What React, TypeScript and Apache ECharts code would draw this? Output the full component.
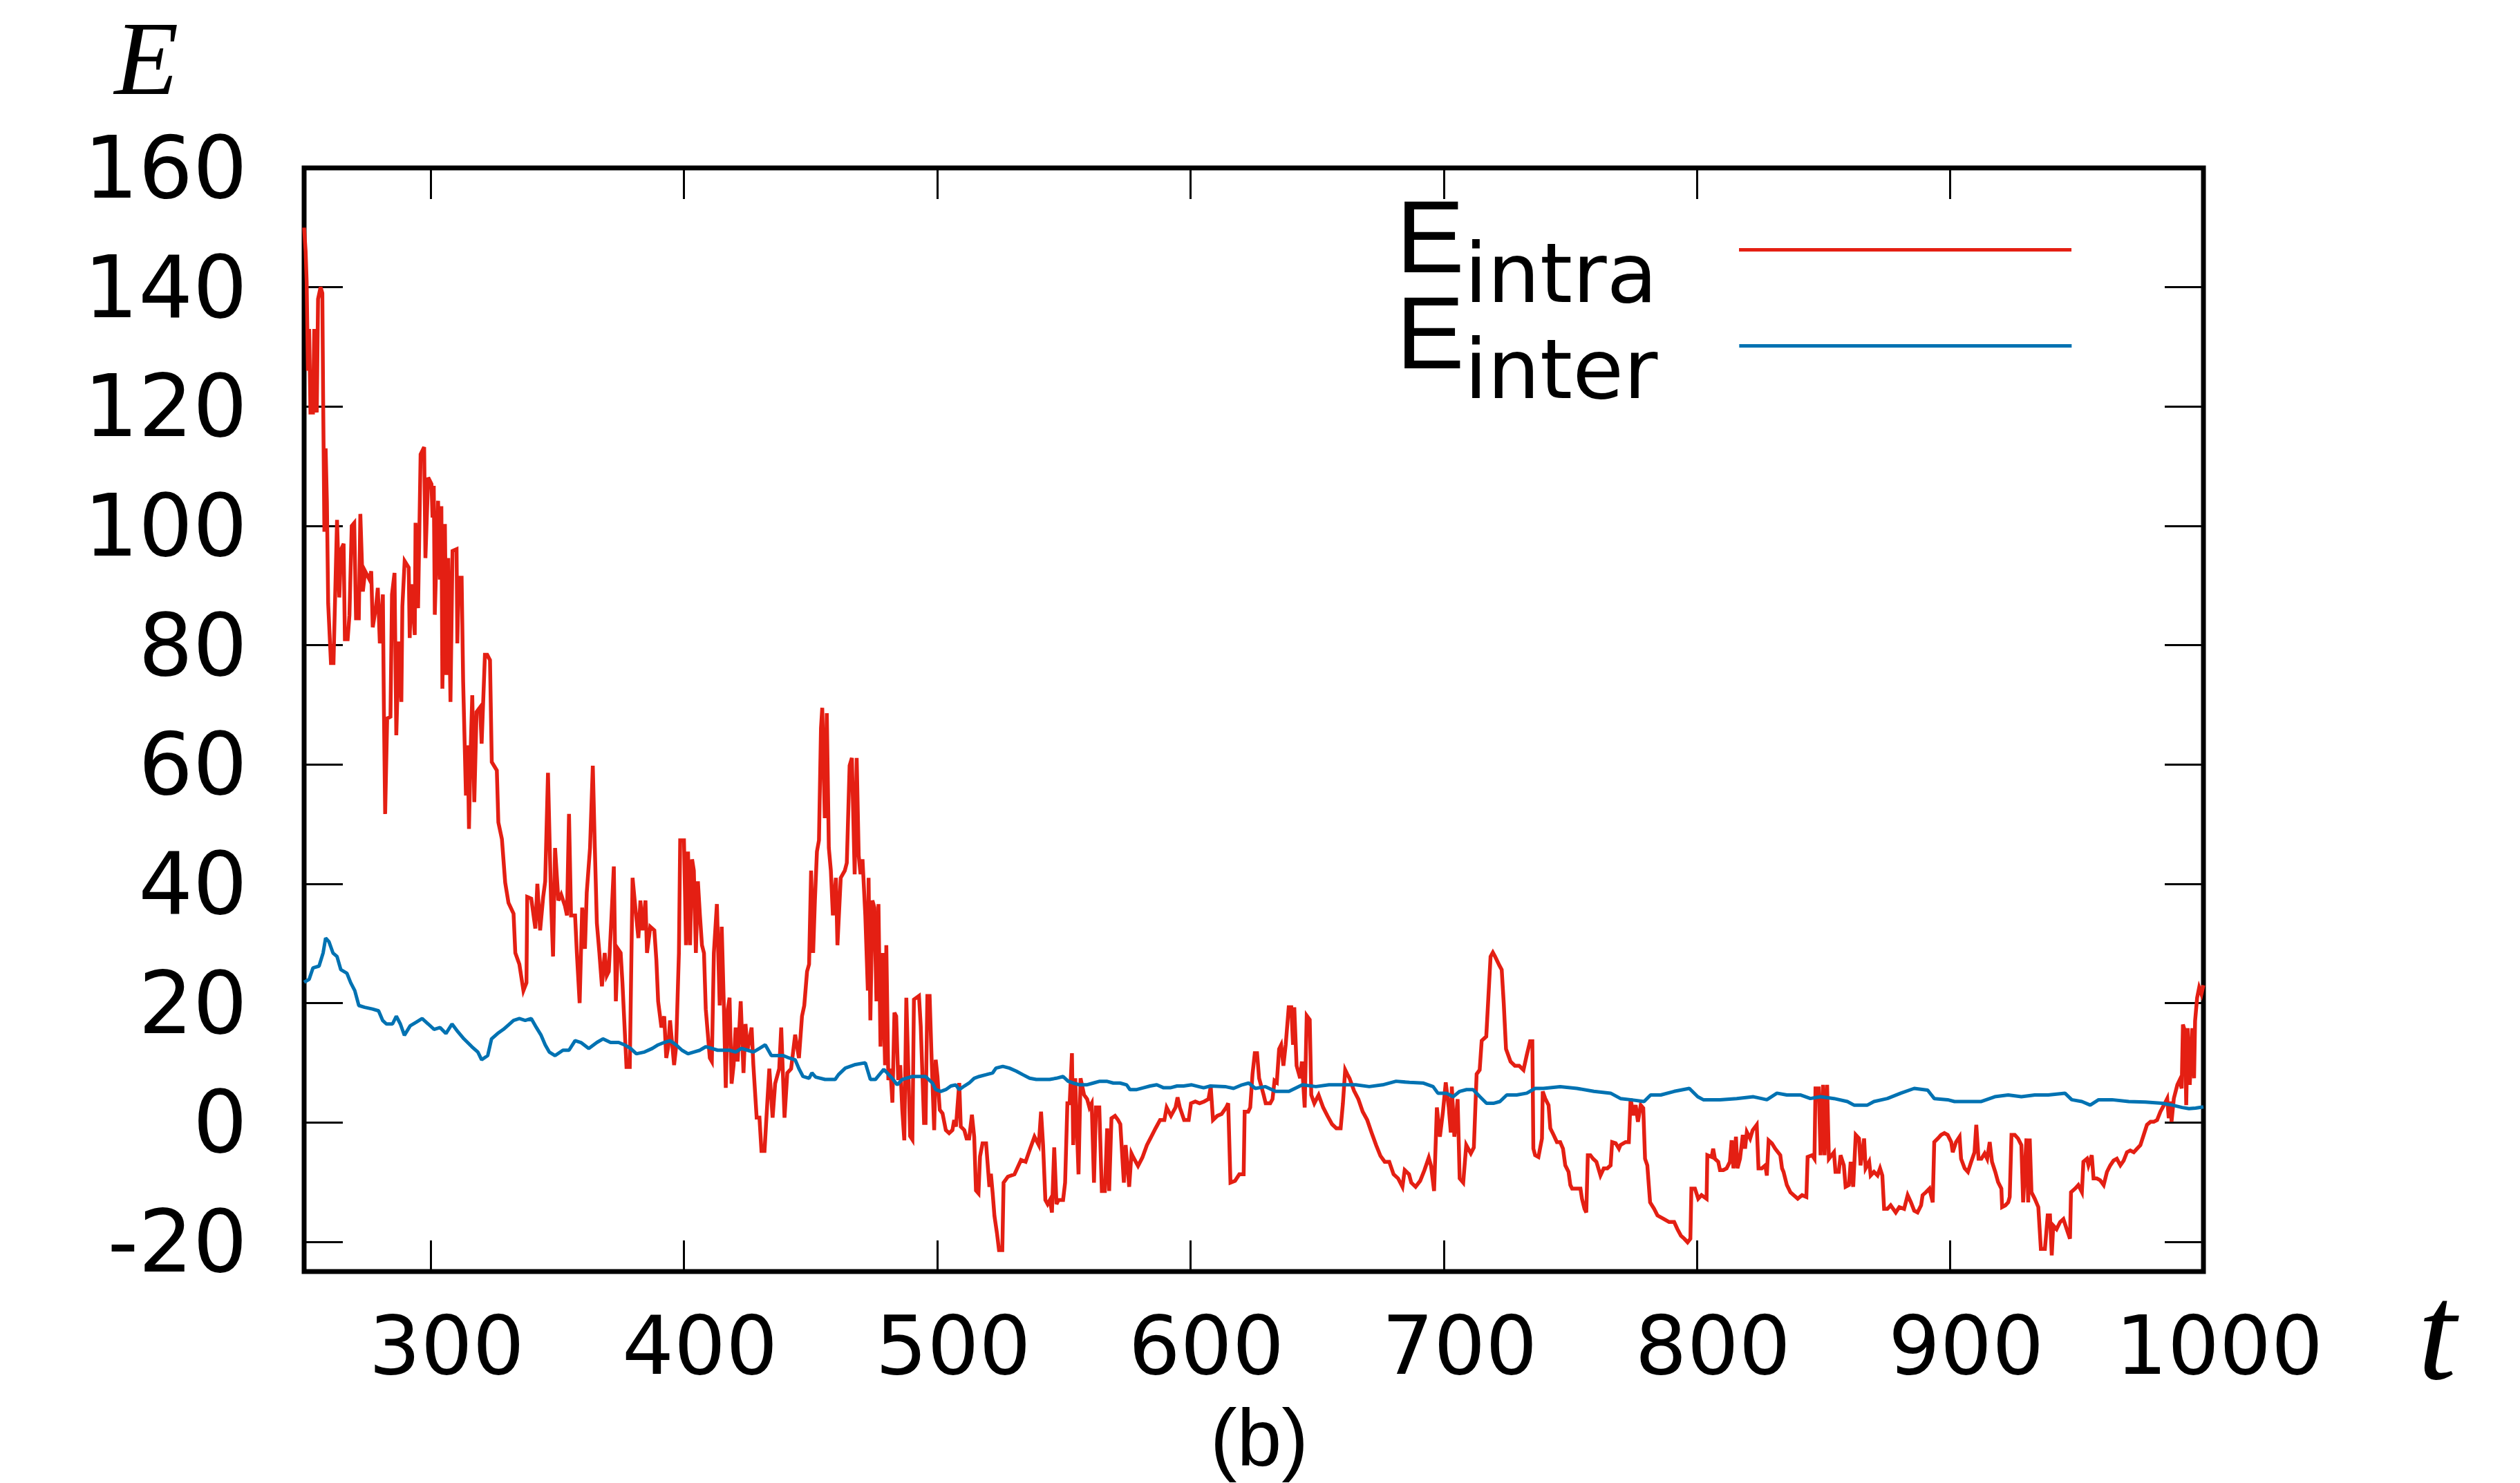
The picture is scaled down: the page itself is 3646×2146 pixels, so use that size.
import React, { useEffect, useRef } from "react";
import * as echarts from "echarts";

const xTicks = [300, 400, 500, 600, 700, 800, 900, 1000];
const yTicks = [-20, 0, 20, 40, 60, 80, 100, 120, 140, 160];
const seriesNames = ["E_intra", "E_inter"];
const legendSubs: Record<string, string> = { E_intra: "intra", E_inter: "inter" };

const eIntra: [number, number][] = [
  [250,150],[250.6,146],[251,141],[251.5,126],[252,133],[252.5,119],[253.5,119],[254,133],[255,119],[255.5,138],[256.5,140],[257.2,139],[257.5,122],[258,99],[258.5,113],[259,104],[259.5,87],[260.6,77],[261.6,77],[263,101],[263.9,88],[264.6,96],[265.6,97],[266.1,81],[267.2,81],[267.9,85],[268.8,100],[269.8,100.5],[270.5,84.5],[271.6,84.5],[272.2,102],[273.2,89],[274.1,92.4],[275.8,91],[276.5,92.4],[277.1,83],[278.4,86.5],[279.1,89.6],[279.9,80.3],[281.1,88.5],[281.5,69.4],[282,51.7],[282.8,67.7],[284.1,68],[284.7,88.5],[285.7,92.1],[286.4,64.9],[287.4,80.6],[288.4,70.5],[288.8,86.5],[289.7,94.1],[291.3,93],[291.7,81.2],[292.3,90.2],[293.7,81.7],[294,100.5],[295,86.2],[296,112],[297.4,113.2],[297.9,94.6],[299,108.1],[300.3,107],[300.7,101.4],[301.2,106.7],[301.6,85.1],[302.9,104.2],[303.6,91],[304.2,103.3],[304.6,72.7],[305.6,100.3],[306.2,75],[306.9,94.6],[307.8,70.5],[308.6,95.8],[310.2,96.1],[310.5,80.3],[311.1,91.3],[312.2,91.3],[312.8,73.9],[313.9,54.8],[314.6,63.2],[315.1,49.2],[315.7,61.5],[316.4,71.6],[317.2,53.7],[318.1,68.8],[319.5,69.6],[320.1,63.5],[321.4,78.4],[322.3,78.4],[323.4,77.5],[324.1,60.4],[326.1,59],[326.7,50.3],[328.1,47.5],[329.4,40.2],[330.7,36.8],[332.7,35],[333.4,28.4],[335,26.5],[336.6,22.1],[337.8,23.4],[338.1,37.8],[339.7,37.5],[341.3,32.5],[342.1,40],[343.2,32.2],[344.4,37.8],[345.2,40.4],[346.3,58.6],[347.5,37.2],[348.3,27.8],[349.1,46],[350.4,37.2],[351.5,38.2],[353,36.3],[353.8,34.7],[354.6,51.7],[355.4,34.7],[357,34.7],[357.7,28.4],[358.8,20],[359.8,36],[360.9,29.1],[361.6,38.5],[362.9,46],[364,59.8],[364.8,46],[365.6,33.4],[366.6,28.4],[367.6,22.8],[368.7,28.4],[369.5,24.6],[370.3,25.3],[371.4,34.7],[372.3,42.9],[373.1,20.3],[373.9,29.1],[375,28.4],[375.7,23.4],[377.3,9.3],[378.6,9.3],[379.7,41],[380.8,36],[382,30.9],[382.8,37.2],[383.6,32.2],[384.8,37.2],[385.4,28.4],[386.7,32.8],[388.3,32.2],[389.1,27.2],[389.8,20.3],[391.1,15.9],[392.2,17.8],[393,10.8],[393.8,12.7],[394.5,17.1],[396.1,9.6],[396.9,12.7],[398,28.4],[398.5,47.3],[400,47.3],[400.8,29.7],[401.6,45.4],[402.4,29.7],[403.2,44.1],[403.9,42.2],[404.7,28.4],[405.5,40.4],[406.3,34.7],[407.1,29.7],[407.9,28.4],[408.6,19],[410.2,10.8],[411,10.2],[411.8,28.4],[413,36.6],[414.1,19.6],[414.9,32.8],[415.7,20.3],[416.5,5.8],[417.3,19],[418,20.9],[418.8,6.5],[419.6,9.6],[420.4,15.9],[421.2,10.2],[422.4,20.3],[423.5,8.3],[424.3,16.5],[425.1,12.1],[426.7,15.9],[427.4,9.6],[428.7,0.8],[429.8,0.8],[430.6,-4.8],[431.8,-4.8],[432.9,3.3],[433.7,9],[435,0.8],[436,6.5],[437.6,9],[438.4,15.9],[439.7,0.8],[440.8,8.3],[442.3,9],[443.9,14.7],[445.4,10.8],[446.6,17.8],[447.5,19.6],[448.6,25.3],[449.4,26.5],[450.2,42.2],[451,28.4],[451.7,37.2],[452.5,45.4],[453.3,47.3],[454.1,66.1],[454.6,69.5],[455.6,51],[456.4,68.6],[457.2,46],[458,42.2],[458.8,34.7],[460,41],[460.6,29.7],[461.9,41],[463.5,42.2],[464.3,43.5],[465.4,59.8],[466.3,61.1],[467.4,41.6],[468.2,61.1],[469,44.7],[469.7,41.6],[470.5,44.1],[471.6,34.7],[472.6,22.1],[472.9,41],[473.6,17.1],[474.4,37.2],[475.2,36],[476,20.3],[476.8,36.6],[477.6,12.7],[478.4,28.4],[479.4,9.6],[479.9,29.7],[480.7,7.1],[481.5,9],[482.3,3.3],[483.1,18.4],[483.8,17.8],[484.6,7.1],[485.4,9.6],[486.2,2.1],[487,-3],[487.8,20.9],[489.3,-2.3],[490.2,-2.9],[490.8,20.6],[492.8,21.2],[493.5,16.1],[494.8,-0.1],[495.4,-0.1],[496.1,21.2],[497,21.2],[497.8,10.5],[498.8,-1.3],[499.4,10.5],[500.1,7.7],[501,2.1],[502.1,1.5],[503.4,-1.3],[504.7,-1.8],[506,-1.3],[506.7,0.4],[507.4,-0.7],[508.7,6.6],[509.3,-0.7],[510.7,-1.3],[511.6,-2.7],[512.6,-2.7],[513.7,1.3],[514.6,-2.4],[515.3,-11.4],[516.3,-11.9],[516.9,-5.7],[517.9,-3.5],[519.3,-3.5],[519.9,-6.9],[520.6,-10.8],[521.2,-8.6],[521.9,-11.9],[522.6,-15.7],[523.6,-18.6],[524.4,-21.4],[525.7,-21.4],[526.2,-10.1],[527.9,-9.1],[530.5,-8.7],[533.1,-6.3],[534.9,-6.6],[536.6,-4.5],[538.4,-2.4],[540.1,-3.8],[541,1.8],[541.8,-3.8],[542.7,-13],[543.6,-13.7],[544.5,-13],[545.3,-15.1],[546.2,-4.2],[547.1,-13.7],[547.9,-13],[549.7,-13],[550.5,-10.1],[551.4,3.2],[552.3,3.2],[553.2,11.6],[553.7,-3.8],[554.5,7.4],[555.8,-8.7],[556.6,7.4],[558,4.6],[559.2,3.9],[560.1,2.5],[561,3.2],[561.9,-10.1],[562.7,2.5],[564,2.5],[565,-11.5],[566.2,-11.5],[567.1,-1],[567.9,-11.5],[568.8,0.7],[570.2,1.1],[571.4,0.4],[572.3,-0.3],[573.7,-10.1],[574.4,-3.8],[575.8,-10.8],[576.7,-5.2],[577.5,-5.9],[579.3,-7.3],[581,-5.9],[582.8,-3.8],[584.5,-2.4],[586.2,-1],[588,0.4],[589.7,0.4],[590.6,2.5],[592.3,1.1],[594.1,2.5],[594.9,4.2],[595.8,2.5],[597.5,0.4],[599.3,0.4],[600.2,3.2],[601.9,3.5],[603.6,3.2],[605.4,3.5],[607.1,3.9],[608,6],[608.9,0.4],[610.6,1.1],[612.3,1.4],[614.1,2.5],[614.9,3.2],[615.8,-10.1],[617.6,-9.8],[619.3,-8.7],[621,-8.7],[621.4,1.8],[622.8,1.8],[623.6,2.5],[624.5,8.1],[625.4,11.6],[626.3,11.6],[627.1,7.4],[628.9,4.6],[629.7,3.2],[631.5,3.2],[632.4,3.9],[633.2,7],[634.1,6.7],[635,12.3],[635.8,13],[636.7,9.5],[637.6,13],[638.8,19.3],[639.8,19.3],[640.5,13],[641,19.3],[641.9,9.5],[643.3,7.4],[644,10.2],[645.1,2.5],[645.9,17.9],[647.1,17.2],[647.7,4.6],[648.9,3.2],[650.6,4.6],[652.4,2.5],[654.1,1.1],[655.9,-0.3],[657.6,-1],[659.3,-1],[660.2,3.2],[661.1,8.8],[661.9,8.1],[662.8,7.4],[664.6,5.3],[666.3,3.9],[668,1.8],[669.8,0.4],[671.5,-1.7],[673.3,-3.8],[675,-5.6],[676.7,-6.6],[678.5,-6.6],[680.2,-8.7],[682,-9.4],[683.7,-10.8],[684.6,-8],[686.3,-8.7],[687.2,-10.1],[688.9,-10.8],[690.7,-9.8],[692.4,-8],[694.1,-5.9],[695,-7.3],[696.2,-11.5],[697.3,2.5],[698.5,-2.4],[699.7,1.8],[700.8,6.7],[702,2.5],[702.8,-1.7],[703.2,6],[704.2,-2.4],[705.5,3.9],[706.3,-9.4],[707.7,-10.1],[708.9,-3.8],[710.7,-5.2],[711.9,-4.2],[713,8.1],[714.2,8.8],[715,13.7],[716.8,14.4],[717.6,20.7],[718.5,27.8],[719.4,28.5],[720.3,27.8],[722,26.3],[722.9,25.6],[723.7,20],[724.6,12.3],[726.4,10.2],[728.1,9.5],[729.8,9.5],[731.5,8.8],[732.8,11.3],[734.1,13.6],[735,13.6],[735.4,-4.4],[736.1,-5.5],[737.4,-5.8],[738.8,-2.7],[739.1,5.2],[740.1,4],[741.4,2.9],[742.1,-1],[743.4,-2.1],[744.7,-3.3],[746,-3.3],[747.1,-4.4],[748,-7.2],[749.3,-8.3],[750,-10.5],[750.7,-11.1],[752.6,-11.1],[754,-11.1],[754.6,-12.8],[755.6,-14.5],[756.3,-15.1],[756.9,-5.5],[757.9,-5.5],[759,-6.1],[760.3,-6.6],[761.9,-8.9],[763.2,-7.7],[764.6,-7.7],[765.9,-7.2],[766.5,-3.3],[767.9,-3.5],[769.2,-4.4],[769.8,-3.8],[771.8,-3.3],[773.1,-3.3],[773.8,4],[774.9,1.2],[775.8,2.9],[776.7,0.1],[777.8,2.9],[778.8,2.4],[779.5,-6.1],[780.4,-7.2],[781.5,-13.4],[783.1,-14.5],[784.4,-15.6],[787,-16.2],[789,-16.7],[791,-16.7],[792.3,-17.9],[793.7,-19],[795,-19.5],[796.3,-20.1],[797.4,-19.5],[797.8,-11.1],[799.2,-11.1],[800.5,-12.8],[801.8,-12.2],[803.8,-12.8],[804.1,-5.5],[805.8,-5.8],[806.4,-4.4],[807.1,-6.1],[808.4,-6.6],[809.1,-8],[810.4,-8],[811.7,-7.7],[813,-6.6],[813.7,-3],[814.4,-7.7],[815.4,-2.4],[816,-7.7],[817,-6.1],[818.1,-2.1],[819,-4.4],[819.7,-1.6],[821,-2.7],[822,-1.3],[823.6,-0.4],[824.3,-7.7],[825.6,-7.7],[827,-7.2],[827.6,-8.9],[828.3,-3],[829.6,-3.5],[830.9,-4.4],[832.9,-5.5],[833.6,-7.7],[834.2,-8.3],[835.5,-10.5],[836.9,-11.7],[838.2,-12.2],[839.8,-12.8],[841.5,-12.2],[843.2,-12.5],[843.7,-5.8],[845.5,-5.5],[846.4,-6.1],[846.8,5.7],[848.1,5.7],[848.8,-5.5],[849.8,6.3],[850.4,-5.5],[851.4,6.3],[852.1,-6.1],[854.1,-5],[854.7,-8.3],[856,-8.3],[856.7,-5.5],[858,-7.2],[858.7,-10.8],[860,-10.5],[860.7,-6.6],[861.7,-10.8],[862.7,-2.1],[864,-2.7],[864.6,-7.2],[866,-2.7],[866.6,-7.7],[868,-6.6],[868.6,-8.9],[869.9,-8.3],[871.3,-8.9],[872.3,-7.7],[873.2,-8.9],[873.9,-14.5],[875.2,-14.5],[876.5,-13.9],[878.5,-15.1],[879.9,-14.2],[881.8,-14.5],[883.2,-12.2],[884.5,-13.4],[885.8,-14.8],[887.1,-15.1],[888.5,-13.9],[889.1,-12.2],[890.4,-11.7],[891.8,-11.1],[893.1,-13.4],[893.7,-3.3],[895.1,-2.7],[896.4,-2.1],[897.7,-1.8],[899,-2.1],[900.4,-3.3],[901,-5],[902.3,-3.3],[903.7,-2.4],[904.3,-6.1],[905.7,-7.7],[907,-8.3],[908.3,-6.6],[909.6,-5],[910.3,-0.4],[911.2,-6.1],[912.3,-6.1],[913.6,-5.2],[914.6,-6.1],[915.6,-3.3],[916.5,-6.6],[917.8,-8.3],[918.9,-10],[920.2,-11.1],[920.5,-14.2],[921.8,-13.9],[922.9,-13.4],[923.5,-12.5],[924.2,-2.1],[925.5,-2.1],[926.8,-2.7],[928.1,-3.8],[928.8,-13.4],[930.1,-2.7],[930.8,-13.4],[931.4,-2.7],[932.1,-11.7],[933.4,-12.8],[934.8,-14.2],[935.8,-21.2],[937.4,-21.2],[938.5,-15.6],[939.4,-15.6],[940.1,-22.3],[940.7,-17.3],[942,-17.9],[943.4,-16.7],[944.7,-16.2],[946,-17.9],[947.3,-19.5],[947.7,-11.7],[949.3,-11.1],[950.6,-10.5],[952,-11.7],[952.6,-6.6],[954,-6.1],[954.6,-7.2],[955.9,-5.5],[956.6,-9.4],[957.9,-9.4],[959.2,-9.7],[960.6,-10.5],[961.9,-8.3],[963.2,-7.2],[964.5,-6.4],[965.8,-6.1],[967.2,-7.2],[968.5,-6.4],[969.8,-5],[971.1,-4.7],[972.5,-5],[973.8,-4.4],[975.1,-3.8],[976.4,-2.1],[977.7,-0.4],[979.1,0.1],[980.4,0.1],[981.7,0.4],[983,1.8],[984.4,2.9],[985.7,4],[986.3,0.7],[987,3.5],[987.4,0.1],[988.3,4],[989.7,6.3],[990.6,7.1],[991.4,5.7],[991.9,16.4],[992.7,15.3],[993.2,2.9],[993.8,15.8],[994.6,6.3],[995.6,15.8],[996.3,7.4],[996.7,17],[997.5,20.9],[998.3,22.6],[999.2,21.5],[1000,23]
];

const eInter: [number, number][] = [
  [250,23.5],[252,24],[253.5,25.9],[255.9,26.2],[257.5,28.4],[258.5,30.9],[259.8,30.3],[261.4,28.4],[263,27.8],[264.5,25.6],[266.9,25],[268.4,23.4],[270,22.1],[271.6,19.6],[273.9,19.3],[277,19],[279.4,18.7],[281,17.1],[282.5,16.5],[284.9,16.5],[286.4,17.8],[288,16.5],[289.6,14.6],[291.9,16.2],[294.3,16.8],[296.6,17.4],[299,16.5],[301.3,15.6],[303.7,15.9],[306,14.9],[308.4,16.5],[310.7,15.2],[313.1,14],[316.2,12.7],[318.6,11.8],[320.1,10.5],[322.5,11.2],[324,14],[326.4,14.9],[328.7,15.6],[331.1,16.5],[332.7,17.1],[335,17.4],[337.3,17.1],[339.7,17.4],[341.3,16.2],[343.6,14.6],[345.2,13],[346.8,11.8],[349.1,11.2],[352.2,12.1],[354.6,12.1],[357,13.7],[359.3,13.4],[362.4,12.4],[365.6,13.4],[368,14],[371,13.4],[374.2,13.4],[376.5,13],[378.9,12.4],[381.2,11.5],[384.4,11.8],[387.5,12.4],[389.8,13],[392.2,13.4],[394.5,13.7],[396.9,13],[399.2,12.1],[401.6,11.5],[403.9,11.8],[406.3,12.1],[408.6,12.7],[411,12.4],[413.3,12.1],[415.7,12.1],[418,12.1],[420.4,11.8],[422.7,12.4],[425.1,12.1],[427.4,11.8],[429.8,12.4],[432.1,13],[434.5,11.2],[436.8,11.2],[439.2,11.2],[441.5,10.8],[443.9,10.5],[445.4,9],[447,7.7],[449.4,7.4],[450.5,8.3],[452,7.6],[455.7,7.2],[459.7,7.2],[461,8],[463.7,9.1],[467.7,9.7],[471.6,10],[473.6,7.2],[475.6,7.2],[478.9,8.9],[482.2,7.4],[484.2,6.3],[486.2,7.2],[490.2,7.7],[495.4,7.7],[498.1,6.6],[499.4,5.5],[501.4,5.2],[503.4,5.5],[505.4,6.1],[507.3,6.3],[508.7,5.5],[510.7,6.1],[512.6,6.6],[514.6,7.4],[516.6,7.7],[519.3,8],[521.9,8.3],[523.2,9.1],[525.9,9.4],[528.5,9.1],[531.2,8.6],[533.8,8],[536.5,7.4],[539.1,7.2],[544.4,7.2],[547,7.4],[549.7,7.7],[551.7,6.9],[553.7,6.6],[556.3,6.3],[559,6.3],[561.6,6.6],[564.2,6.9],[566.9,6.9],[569.5,6.6],[572.2,6.6],[574.8,6.3],[576.1,5.5],[578.8,5.5],[581.4,5.8],[584.1,6.1],[586.7,6.3],[589.4,5.8],[592,5.8],[594.7,6.1],[597.3,6.1],[600.5,6.3],[605.2,5.8],[607.9,6.1],[613.7,6],[617,5.7],[620.4,6.3],[623,6.6],[625.6,5.7],[629.6,6],[633.6,5.2],[638.9,5.2],[644.2,6.3],[649.5,6],[654.7,6.3],[660,6.3],[665.3,6.3],[670.6,6],[675.9,6.3],[681.2,6.9],[686.5,6.7],[691.8,6.6],[695.8,6],[697.7,4.9],[701,4.9],[703.7,4.3],[706.3,5.2],[709,5.5],[711.6,5.5],[714.3,4.3],[716.9,3.2],[719.6,3.2],[722.2,3.5],[724.9,4.6],[728.8,4.6],[732.8,4.9],[736.1,5.7],[739.4,5.7],[746,6],[752.6,5.7],[759.3,5.2],[765.9,4.9],[769.8,4],[773.8,3.8],[779.1,3.5],[781.7,4.6],[785.7,4.6],[791,5.2],[797,5.7],[800.3,4.3],[802.5,3.8],[809.1,3.8],[815.7,4],[822.3,4.3],[827.6,3.8],[831.6,4.9],[835.5,4.6],[840.8,4.6],[844.8,4],[848.8,4.3],[854.1,4],[859.4,3.5],[862,2.9],[867.3,2.9],[869.9,3.5],[875.2,4],[880.5,4.9],[885.8,5.7],[891.1,5.4],[893.7,4],[899,3.8],[901.7,3.5],[907,3.5],[912.3,3.5],[917.6,4.3],[922.9,4.6],[928.1,4.3],[933.4,4.6],[938.7,4.6],[945.3,4.9],[948,3.8],[952,3.5],[955.3,2.9],[958.6,3.8],[963.9,3.8],[970.5,3.5],[977.1,3.4],[983.7,3.2],[987.7,2.9],[991.6,2.5],[994.3,2.3],[996.9,2.4],[1000,2.6]
];

const RED = "#e41f13";
const BLUE = "#0072b2";
const SANS = "DejaVu Sans";

export default function App() {
  const ref = useRef<HTMLDivElement>(null);

  useEffect(() => {
    if (!ref.current) return;
    const chart = echarts.init(ref.current, null, { renderer: "svg" });

    const tickStyle = { color: "#000", width: 3 };
    const plain = (v: number) => String(v);

    const legendRich = {
      E: { fontFamily: "Liberation Sans", fontSize: 148, verticalAlign: "top", color: "#000" },
      s: { fontFamily: SANS, fontSize: 120, verticalAlign: "top", padding: [67, 0, 0, 0], color: "#000" },
      g: { width: 113, fontSize: 20 },
    };
    const legendFormatter = (name: string) => `{E|E}{s|${legendSubs[name]}}{g| }`;
    const legendBase = {
      orient: "vertical",
      left: 2020,
      padding: 0,
      align: "right",
      icon: "rect",
      itemWidth: 481,
      itemHeight: 5,
      selectedMode: false,
      formatter: legendFormatter,
      textStyle: { rich: legendRich },
    };

    const option: any = {
      animation: false,
      backgroundColor: "#ffffff",
      grid: {
        left: 440,
        top: 243,
        width: 2748,
        height: 1597,
        show: true,
        borderColor: "#000",
        borderWidth: 7,
        backgroundColor: "transparent",
        containLabel: false,
      },
      xAxis: [
        {
          type: "value",
          min: 250,
          max: 1000,
          position: "bottom",
          axisLine: { show: false, onZero: false },
          splitLine: { show: false },
          axisTick: { show: true, inside: true, length: 45, lineStyle: tickStyle, customValues: xTicks },
          axisLabel: {
            show: true,
            customValues: xTicks,
            margin: 59,
            lineHeight: 96,
            formatter: plain,
            padding: [0, 0, 0, 46],
            fontSize: 118,
            fontFamily: SANS,
            color: "#000",
          },
        },
        {
          type: "value",
          min: 250,
          max: 1000,
          position: "top",
          axisLine: { show: false, onZero: false },
          splitLine: { show: false },
          axisTick: { show: true, inside: true, length: 45, lineStyle: tickStyle, customValues: xTicks },
          axisLabel: { show: false },
        },
      ],
      yAxis: [
        {
          type: "value",
          min: -25,
          max: 160,
          position: "left",
          axisLine: { show: false, onZero: false },
          splitLine: { show: false },
          axisTick: { show: true, inside: true, length: 56, lineStyle: tickStyle, customValues: yTicks },
          axisLabel: {
            show: true,
            customValues: yTicks,
            margin: 82,
            formatter: plain,
            fontSize: 124,
            fontFamily: SANS,
            color: "#000",
          },
        },
        {
          type: "value",
          min: -25,
          max: 160,
          position: "right",
          axisLine: { show: false, onZero: false },
          splitLine: { show: false },
          axisTick: { show: true, inside: true, length: 56, lineStyle: tickStyle, customValues: yTicks },
          axisLabel: { show: false },
        },
      ],
      legend: [
        { ...legendBase, data: [seriesNames[0]], top: 268 },
        { ...legendBase, data: [seriesNames[1]], top: 407 },
      ],
      series: [
        {
          name: seriesNames[0],
          type: "line",
          data: eIntra,
          xAxisIndex: 0,
          yAxisIndex: 0,
          showSymbol: false,
          symbol: "none",
          lineStyle: { color: RED, width: 5.5, join: "miter" },
          itemStyle: { color: RED },
          z: 2,
        },
        {
          name: seriesNames[1],
          type: "line",
          data: eInter,
          xAxisIndex: 0,
          yAxisIndex: 0,
          showSymbol: false,
          symbol: "none",
          lineStyle: { color: BLUE, width: 5 },
          itemStyle: { color: BLUE },
          z: 3,
        },
      ],
      graphic: [
        {
          type: "text",
          x: 212,
          y: 85,
          style: {
            text: "E",
            font: 'italic 152px "Liberation Serif"',
            fill: "#000",
            align: "center",
            verticalAlign: "middle",
            textAlign: "center",
            textVerticalAlign: "middle",
          },
        },
        {
          type: "text",
          x: 3526,
          y: 1927,
          style: {
            text: "t",
            font: 'italic 200px "Liberation Serif"',
            fill: "#000",
            align: "center",
            verticalAlign: "middle",
            textAlign: "center",
            textVerticalAlign: "middle",
          },
        },
        {
          type: "text",
          x: 1822,
          y: 2081,
          style: {
            text: "(b)",
            font: '116px "Liberation Sans"',
            fill: "#000",
            align: "center",
            verticalAlign: "middle",
            textAlign: "center",
            textVerticalAlign: "middle",
          },
        },
      ],
    };

    chart.setOption(option);
    return () => chart.dispose();
  }, []);

  return (
    <div
      ref={ref}
      style={{ position: "absolute", left: 0, top: 0, width: 3646, height: 2146, background: "#fff" }}
    />
  );
}
